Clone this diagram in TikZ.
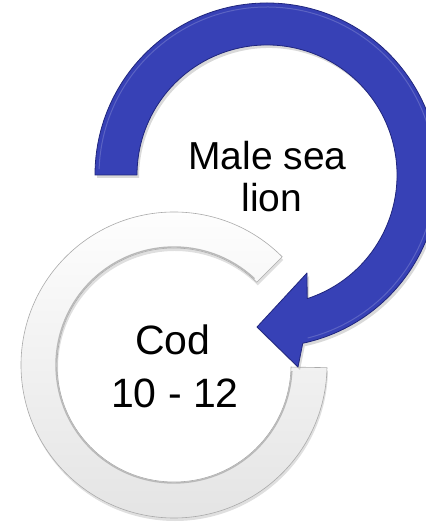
\documentclass[tikz,border=0pt]{standalone}
\usepackage{fontspec}
\setmainfont{Liberation Sans}
\usetikzlibrary{calc,shadows,fadings}
\definecolor{arrowblue}{RGB}{55,65,182}
\definecolor{arrowedge}{RGB}{32,38,125}
\definecolor{ringedge}{RGB}{170,170,170}
\tikzset{
  bluearrow/.style={fill=arrowblue, draw=arrowedge, line width=0.8pt, line join=round,
    drop shadow={opacity=0.3, shadow xshift=2pt, shadow yshift=-3pt}},
  whitering/.style={top color=white, bottom color=gray!22, draw=ringedge, line width=0.6pt,
    drop shadow={opacity=0.25, shadow xshift=1pt, shadow yshift=-3pt}},
  bigtext/.style={font=\fontsize{39}{44}\selectfont, inner sep=0pt, anchor=base},
  codtext/.style={font=\fontsize{41}{47}\selectfont, inner sep=0pt, anchor=base}
}
\begin{document}
\begin{tikzpicture}[x=1pt,y=1pt]
\useasboundingbox (0,0) rectangle (425,526);
% white ring (centre 174,161; radii 153 / 117)
\coordinate (rc) at (174,161);
\path[whitering] ($(rc)+(45:153pt)$) arc[start angle=45, end angle=359, radius=153pt]
  -- ($(rc)+(359:117pt)$) arc[start angle=359, end angle=45, radius=117pt] -- cycle;
\draw[gray!55, line width=1.4pt] ($(rc)+(47:118pt)$) arc[start angle=47, end angle=357, radius=118pt];
% blue circular arrow (centre 267,351; radii 172 / 130)
\coordinate (bc) at (267,351);
\coordinate (tip) at (257,199);
\coordinate (barbout) at (298,159);
\coordinate (barbin) at (307,253);
\path[bluearrow] ($(bc)+(180:172pt)$) arc[start angle=180, end angle=-78, radius=172pt]
  -- (barbout) -- (tip) -- (barbin)
  -- ($(bc)+(-72:130pt)$) arc[start angle=-72, end angle=180, radius=130pt] -- cycle;
\draw[arrowblue!70!white, line width=1pt, opacity=0.6] ($(bc)+(178:168pt)$) arc[start angle=178, end angle=-76, radius=168pt];
% labels
\node[bigtext] (male1) at (267.5,356) {Male sea};
\node[bigtext] (male2) at (272,314) {lion};
\node[codtext] (cod) at (173,171) {Cod};
\node[codtext] (num) at (175,118) {10 - 12};
\end{tikzpicture}
\end{document}
